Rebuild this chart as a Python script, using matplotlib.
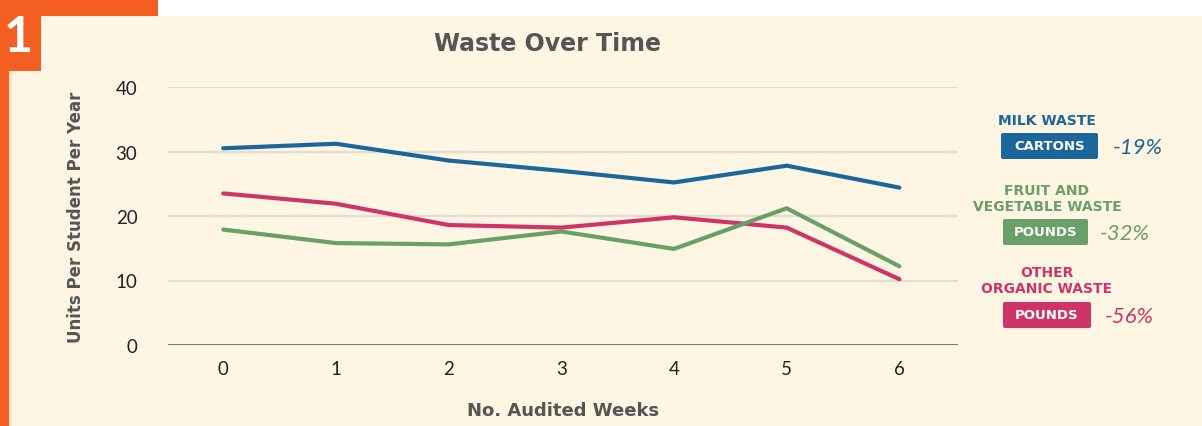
import matplotlib.pyplot as plt
from matplotlib.patches import Rectangle, FancyBboxPatch

# ------------------------- Data ------------------------- #
weeks = [0, 1, 2, 3, 4, 5, 6]
milk = [30.5, 31.2, 28.6, 27.0, 25.2, 27.8, 24.4]
fruit_veg = [17.9, 15.8, 15.6, 17.6, 14.9, 21.2, 12.2]
other_organic = [23.5, 21.9, 18.6, 18.2, 19.8, 18.2, 10.2]
y_ticks = [0, 10, 20, 30, 40]

series_names = ['MILK WASTE', 'FRUIT AND\nVEGETABLE WASTE', 'OTHER\nORGANIC WASTE']
units = ['CARTONS', 'POUNDS', 'POUNDS']
changes = ['-19%', '-32%', '-56%']

colors = {
  'milk': '#1b679c',
  'fruit': '#68a067',
  'other': '#cf3468',
  'panel': '#fef5e3',
  'orange': '#f35f22',
  'grid': '#e2ddd6',
  'base': '#777777',
  'title': '#555555',
}

W, H = 1202, 427
fig = plt.figure(figsize=(W / 100, H / 100), dpi=100)
fig.patch.set_facecolor('white')

# background layer in pixel coordinates
bg = fig.add_axes([0, 0, 1, 1], zorder=0)
bg.set_xlim(0, W)
bg.set_ylim(H, 0)
bg.axis('off')
bg.add_patch(Rectangle((9, 17), W - 9, H - 17, color=colors['panel'], lw=0))
bg.add_patch(Rectangle((9, 17), 3, H - 17, color='#fde3c4', lw=0))
bg.add_patch(Rectangle((0, 0), 158, 17, color=colors['orange'], lw=0))
bg.add_patch(Rectangle((0, 0), 9, H, color=colors['orange'], lw=0))
bg.add_patch(Rectangle((0, 0), 41, 72, color=colors['orange'], lw=0))
bg.text(18, 38, '1', color='white', fontsize=36, fontweight='bold', family='Lato',
        ha='center', va='center')

# ------------------------ Plot Main ------------------------- #
ax = fig.add_axes([168 / W, (H - 346) / H, (958 - 168) / W, (346 - 88) / H], zorder=1)
ax.set_facecolor('none')
ax.plot(weeks, milk, color=colors['milk'], lw=3, solid_capstyle='round', zorder=3)
ax.plot(weeks, other_organic, color=colors['other'], lw=3, solid_capstyle='round', zorder=3)
ax.plot(weeks, fruit_veg, color=colors['fruit'], lw=3, solid_capstyle='round', zorder=3)

ax.set_xlim(-0.49, 6.52)
ax.set_ylim(0, 40)
for yv in y_ticks[1:]:
  ax.axhline(yv, color=colors['grid'], lw=1.6, zorder=1)
ax.axhline(0, color=colors['base'], lw=2.2, zorder=2)
for s in ax.spines.values():
  s.set_visible(False)
ax.set_xticks(weeks)
ax.set_yticks(y_ticks)
ax.tick_params(length=0, labelsize=13.5, labelcolor='#222222', pad=22)
ax.tick_params(axis='x', pad=11)
for lab in ax.get_xticklabels() + ax.get_yticklabels():
  lab.set_family('Lato')

ax.set_xlabel('No. Audited Weeks', fontsize=13, fontweight='bold', color=colors['title'],
              family='DejaVu Sans', labelpad=17)
ax.set_ylabel('Units Per Student Per Year', fontsize=12, fontweight='bold', color=colors['title'],
              family='DejaVu Sans', labelpad=22)
bg.text(547, 44, 'Waste Over Time', fontsize=17, fontweight='bold', color=colors['title'],
        family='DejaVu Sans', ha='center', va='center')

# ------------------------ Legend ------------------------- #
legend_colors = [colors['milk'], colors['fruit'], colors['other']]
name_y = [121, 199, 281]
box_x = [(1001, 1098), (1003, 1088), (1003, 1091)]
box_y = [147, 233, 316]
pct_x = [1138, 1125, 1129]
for name, unit, chg, c, ny, (x0, x1), by, px in zip(series_names, units, changes, legend_colors,
                                                   name_y, box_x, box_y, pct_x):
  bg.text(1047, ny, name, color=c, fontsize=10, fontweight='bold', family='DejaVu Sans',
          ha='center', va='center', linespacing=1.25)
  bg.add_patch(FancyBboxPatch((x0, by - 13), x1 - x0, 26, boxstyle='round,pad=0,rounding_size=2',
                              color=c, lw=0))
  bg.text((x0 + x1) / 2, by, unit, color='white', fontsize=9.5, fontweight='bold', family='DejaVu Sans',
          ha='center', va='center')
  bg.text(px, by + 1, chg, color=c, fontsize=16, style='italic', family='Lato',
          ha='center', va='center')

plt.savefig('out.png', dpi=100, facecolor=fig.get_facecolor())
